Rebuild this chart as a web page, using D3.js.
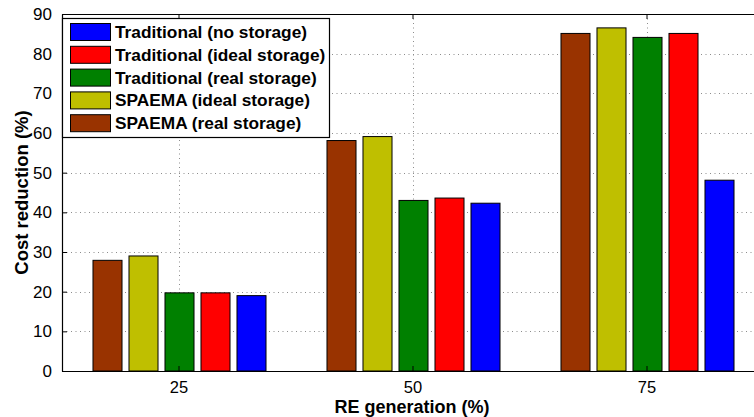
<!DOCTYPE html>
<html>
<head>
<meta charset="utf-8">
<script src="https://cdn.jsdelivr.net/npm/d3@7"></script>
<style>
  html, body { margin: 0; padding: 0; background: #fff; }
  svg { display: block; font-family: "Liberation Sans", Arial, Helvetica, sans-serif; }
</style>
</head>
<body>
<svg id="chart" width="754" height="417"></svg>
<script>
// ---- data ----
const categories = ["25", "50", "75"];
const seriesNames = [
  "SPAEMA (real storage)",
  "SPAEMA (ideal storage)",
  "Traditional (real storage)",
  "Traditional (ideal storage)",
  "Traditional (no storage)"
];
const seriesColors = ["#993300", "#BFBF00", "#008000", "#FF0000", "#0000FF"];
const spaemaReal = [27.9, 58.1, 85.1];
const spaemaIdeal = [29.0, 59.1, 86.5];
const tradReal = [19.7, 43.0, 84.1];
const tradIdeal = [19.7, 43.6, 85.1];
const tradNone = [19.0, 42.3, 48.1];
const yTicks = [0, 10, 20, 30, 40, 50, 60, 70, 80, 90];
const legendOrder = [4, 3, 2, 1, 0];

const seriesValues = [spaemaReal, spaemaIdeal, tradReal, tradIdeal, tradNone];

// ---- layout ----
const svg = d3.select("#chart");
const pLeft = 62, pRight = 764, pTop = 14, pBottom = 371;

const x = d3.scaleBand().domain(categories).range([pLeft, pRight]).paddingInner(0).paddingOuter(0);
const xs = d3.scaleBand().domain(d3.range(seriesNames.length))
  .range([0, x.bandwidth()]).paddingInner(0.194).paddingOuter(0.847);
const y = d3.scaleLinear().domain([0, 90]).range([pBottom, pTop]);

// grid
const grid = svg.append("g").attr("stroke", "#8c8c8c").attr("stroke-width", 1)
  .attr("stroke-dasharray", "1,3.5");
grid.selectAll("line.h").data(yTicks.filter(d => d > 0 && d < 90)).join("line")
  .attr("x1", pLeft).attr("x2", pRight)
  .attr("y1", d => Math.round(y(d)) + 0.5).attr("y2", d => Math.round(y(d)) + 0.5);
grid.selectAll("line.v").data(categories).join("line")
  .attr("x1", d => Math.round(x(d) + x.bandwidth() / 2) + 0.5)
  .attr("x2", d => Math.round(x(d) + x.bandwidth() / 2) + 0.5)
  .attr("y1", pTop).attr("y2", pBottom);

// bars
const groups = svg.append("g").selectAll("g").data(categories).join("g")
  .attr("transform", d => `translate(${x(d)},0)`);
groups.selectAll("rect").data((c, ci) => seriesValues.map((vals, si) => ({ si, v: vals[ci] })))
  .join("rect")
  .attr("x", d => xs(d.si) + 0.5)
  .attr("width", xs.bandwidth())
  .attr("y", d => y(d.v))
  .attr("height", d => y(0) - y(d.v))
  .attr("fill", d => seriesColors[d.si])
  .attr("stroke", "#000").attr("stroke-width", 1);

// axes frame
const axisG = svg.append("g");
const yAxis = d3.axisLeft(y).tickValues(yTicks).tickSizeInner(-5).tickSizeOuter(0).tickPadding(10);
const yg = axisG.append("g").attr("transform", `translate(${pLeft},0)`).call(yAxis);
yg.select(".domain").attr("stroke", "#000").attr("stroke-width", 1.2);
yg.selectAll(".tick text").attr("font-size", 17).attr("fill", "#000")
  .attr("font-family", "'Liberation Sans', Arial, sans-serif");
yg.selectAll(".tick line").attr("stroke", "#000");

const xAxis = d3.axisBottom(x).tickSizeInner(-5).tickSizeOuter(0).tickPadding(10);
const xg = axisG.append("g").attr("transform", `translate(0,${pBottom})`).call(xAxis);
xg.select(".domain").attr("stroke", "#000").attr("stroke-width", 1.2);
xg.selectAll(".tick text").attr("font-size", 16.5).attr("fill", "#000")
  .attr("font-family", "'Liberation Sans', Arial, sans-serif");
xg.selectAll(".tick line").attr("stroke", "#000");

const xTop = d3.axisTop(x).tickSizeInner(-5).tickSizeOuter(0).tickFormat("");
const xtg = axisG.append("g").attr("transform", `translate(0,${pTop})`).call(xTop);
xtg.select(".domain").attr("stroke", "#000").attr("stroke-width", 1.2);
xtg.selectAll(".tick line").attr("stroke", "#000");

// axis labels
svg.append("text").attr("x", (pLeft + pRight) / 2 - 1).attr("y", 413)
  .attr("text-anchor", "middle").attr("font-weight", "bold").attr("font-size", 18)
  .text("RE generation (%)");
svg.append("text").attr("transform", `translate(28,${(pTop + pBottom) / 2}) rotate(-90)`)
  .attr("text-anchor", "middle").attr("font-weight", "bold").attr("font-size", 18.5)
  .text("Cost reduction (%)");

// legend
const leg = svg.append("g");
leg.append("rect").attr("x", 62.5).attr("y", 18.5).attr("width", 267).attr("height", 119)
  .attr("fill", "#fff").attr("stroke", "#000").attr("stroke-width", 1.2);
const rows = leg.selectAll("g.row").data(legendOrder).join("g")
  .attr("transform", (d, i) => `translate(0,${32 + i * 22.8})`);
rows.append("rect").attr("x", 70.5).attr("y", -8.5).attr("width", 40).attr("height", 17)
  .attr("fill", d => seriesColors[d]).attr("stroke", "#000").attr("stroke-width", 1);
rows.append("text").attr("x", 115).attr("y", 6).attr("font-weight", "bold").attr("font-size", 17.3)
  .text(d => seriesNames[d]);
</script>
</body>
</html>
